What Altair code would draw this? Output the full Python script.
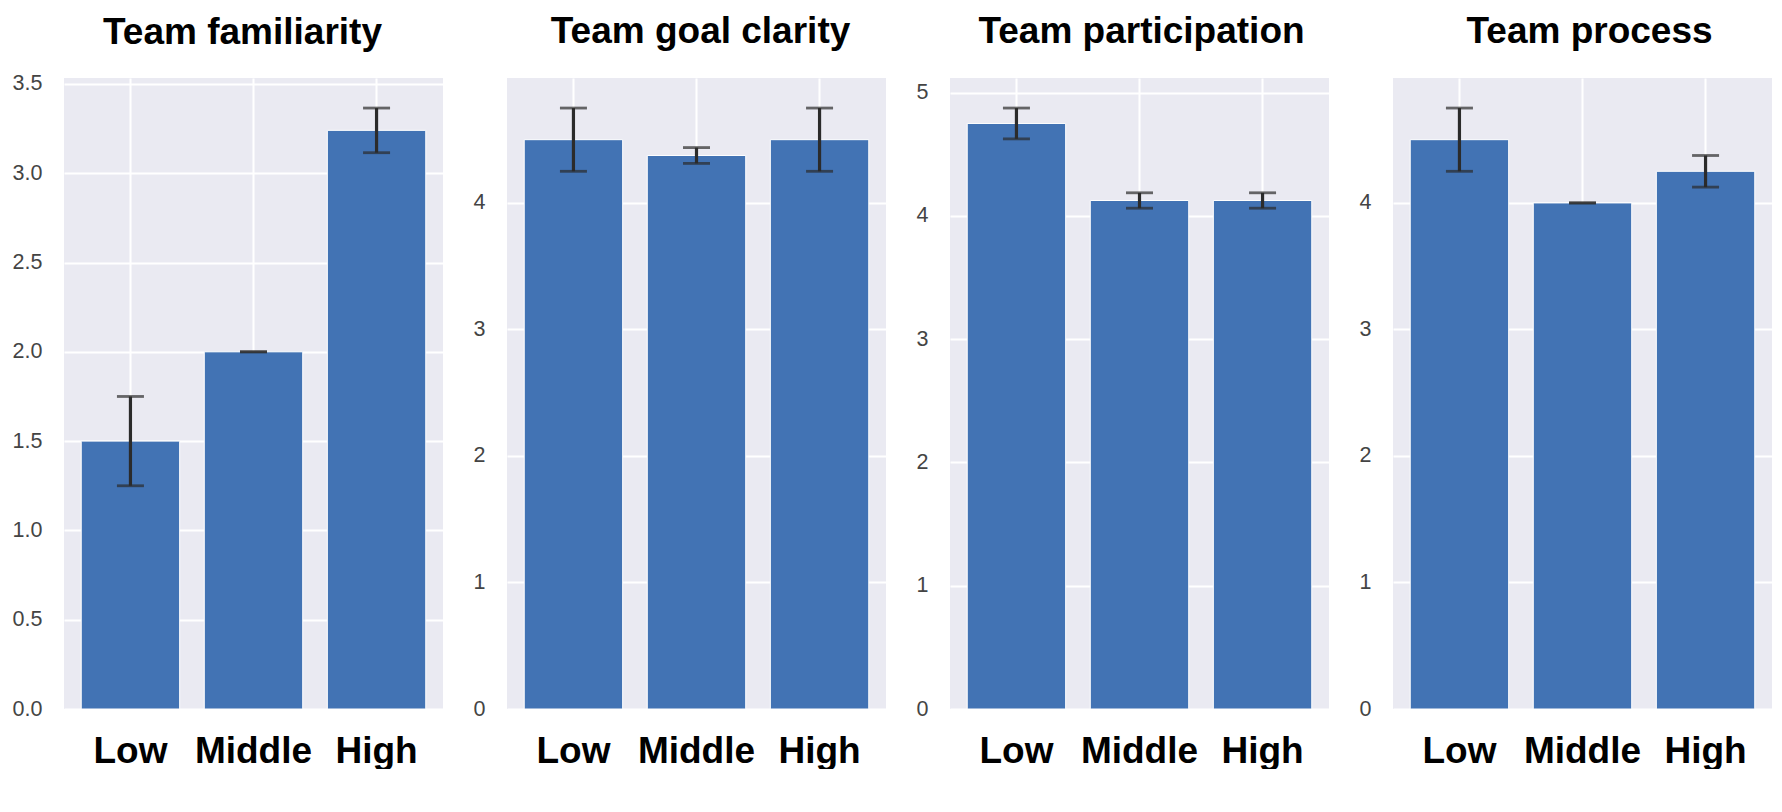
import altair as alt
import pandas as pd

categories = ["Low", "Middle", "High"]
titles = ["Team familiarity", "Team goal clarity", "Team participation", "Team process"]
means = [
    [1.5, 2.0, 3.24],
    [4.5, 4.375, 4.5],
    [4.75, 4.125, 4.125],
    [4.5, 4.0, 4.25],
]
errors = [
    [0.25, 0.0, 0.125],
    [0.25, 0.0625, 0.25],
    [0.125, 0.0625, 0.0625],
    [0.25, 0.0, 0.125],
]
y_ticks = [
    [0, 0.5, 1.0, 1.5, 2.0, 2.5, 3.0, 3.5],
    [0, 1, 2, 3, 4],
    [0, 1, 2, 3, 4, 5],
    [0, 1, 2, 3, 4],
]
y_formats = [".1f", "d", "d", "d"]
title_dx = [-11, 4, 2, 7]
title_offset = [21, 27, 27, 27]

FONT = "Liberation Sans"
BAR = "#4273b4"
ERR = "#2b2b2b"


def panel(i):
    df = pd.DataFrame({"cat": categories, "mean": means[i], "err": errors[i]})
    df["lo"] = df["mean"] - df["err"]
    df["hi"] = df["mean"] + df["err"]
    top = float(df["hi"].max()) * 1.05

    xaxis = alt.Axis(
        labelAngle=0, labelFont=FONT, labelFontSize=37, labelFontWeight="bold",
        labelColor="black", labelPadding=24, ticks=False, tickSize=0, domain=False,
        grid=True, gridColor="white", gridWidth=2, bandPosition=0.5, title=None,
    )
    yaxis = alt.Axis(
        values=y_ticks[i], format=y_formats[i], labelFont=FONT, labelFontSize=21.5,
        labelColor="#444444", labelPadding=22, ticks=False, tickSize=0, domain=False,
        grid=True, gridColor="white", gridWidth=2, title=None,
        minExtent=56, maxExtent=56,
    )
    xscale = alt.Scale(paddingInner=0.2, paddingOuter=0.14)
    yscale = alt.Scale(domain=[0, top], nice=False, zero=True)
    x = alt.X("cat:N", sort=categories, scale=xscale, axis=xaxis)

    base = alt.Chart(df)
    bars = base.mark_bar(color=BAR, stroke="white", strokeWidth=1).encode(
        x=x, y=alt.Y("mean:Q", scale=yscale, axis=yaxis)
    )
    rules = base.mark_rule(color=ERR, strokeWidth=3.2).encode(
        x=x, y=alt.Y("lo:Q", scale=yscale, axis=yaxis), y2="hi:Q"
    )
    cap_lo = base.mark_tick(color=ERR, size=27, thickness=2.8).encode(
        x=x, y=alt.Y("lo:Q", scale=yscale, axis=yaxis)
    )
    cap_hi = base.mark_tick(color=ERR, size=27, thickness=2.8).encode(
        x=x, y=alt.Y("hi:Q", scale=yscale, axis=yaxis)
    )
    return alt.layer(bars, rules, cap_lo, cap_hi).properties(
        width=379, height=631,
        title=alt.TitleParams(
            titles[i], font=FONT, fontSize=37, fontWeight="bold", color="black",
            anchor="middle", offset=title_offset[i], dx=title_dx[i],
        ),
    )


chart = (
    alt.hconcat(*[panel(i) for i in range(4)], spacing=8)
    .properties(padding={"left": 0, "top": 5, "right": 0, "bottom": 0})
    .configure_view(fill="#EAEAF2", strokeWidth=0)
)

chart.save("out.html", embed_options={"renderer": "svg", "actions": False})
